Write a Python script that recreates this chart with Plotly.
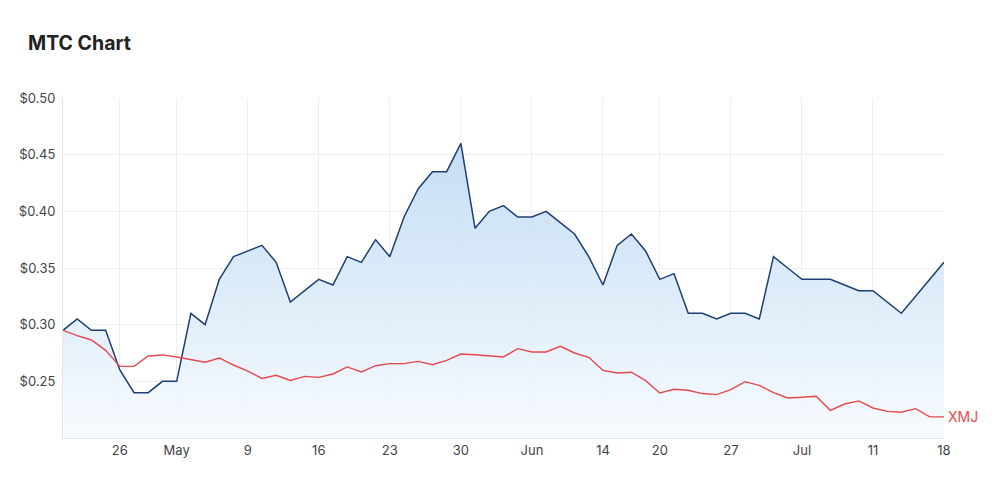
import plotly.graph_objects as go

dates = [
    "2022-04-19", "2022-04-20", "2022-04-21", "2022-04-22", "2022-04-26", "2022-04-27", "2022-04-28", "2022-04-29",
    "2022-05-02", "2022-05-03", "2022-05-04", "2022-05-05", "2022-05-06",
    "2022-05-09", "2022-05-10", "2022-05-11", "2022-05-12", "2022-05-13",
    "2022-05-16", "2022-05-17", "2022-05-18", "2022-05-19", "2022-05-20",
    "2022-05-23", "2022-05-24", "2022-05-25", "2022-05-26", "2022-05-27",
    "2022-05-30", "2022-05-31", "2022-06-01", "2022-06-02", "2022-06-03",
    "2022-06-06", "2022-06-07", "2022-06-08", "2022-06-09", "2022-06-10",
    "2022-06-14", "2022-06-15", "2022-06-16", "2022-06-17",
    "2022-06-20", "2022-06-21", "2022-06-22", "2022-06-23", "2022-06-24",
    "2022-06-27", "2022-06-28", "2022-06-29", "2022-06-30", "2022-07-01",
    "2022-07-04", "2022-07-05", "2022-07-06", "2022-07-07", "2022-07-08",
    "2022-07-11", "2022-07-12", "2022-07-13", "2022-07-14", "2022-07-15",
    "2022-07-18",
]

mtc = [
    0.295, 0.305, 0.295, 0.295, 0.260, 0.240, 0.240, 0.250,
    0.250, 0.310, 0.300, 0.340, 0.360,
    0.365, 0.370, 0.355, 0.320, 0.330,
    0.340, 0.335, 0.360, 0.355, 0.375,
    0.360, 0.395, 0.420, 0.435, 0.435,
    0.460, 0.385, 0.400, 0.405, 0.395,
    0.395, 0.400, 0.390, 0.380, 0.360,
    0.335, 0.370, 0.380, 0.365,
    0.340, 0.345, 0.310, 0.310, 0.305,
    0.310, 0.310, 0.305, 0.360, 0.350,
    0.340, 0.340, 0.340, 0.335, 0.330,
    0.330, 0.320, 0.310, 0.325, 0.340,
    0.355,
]

xmj = [
    0.2950, 0.2903, 0.2865, 0.2773, 0.2632, 0.2632, 0.2724, 0.2733,
    0.2715, 0.2689, 0.2668, 0.2706, 0.2644,
    0.2591, 0.2526, 0.2553, 0.2508, 0.2544,
    0.2535, 0.2565, 0.2627, 0.2583, 0.2638,
    0.2656, 0.2656, 0.2676, 0.2647, 0.2685,
    0.2741, 0.2735, 0.2724, 0.2715, 0.2788,
    0.2759, 0.2759, 0.2809, 0.2750, 0.2712,
    0.2597, 0.2574, 0.2580, 0.2506,
    0.2397, 0.2430, 0.2421, 0.2392, 0.2383,
    0.2427, 0.2497, 0.2465, 0.2400, 0.2353,
    0.2359, 0.2368, 0.2244, 0.2300, 0.2327,
    0.2265, 0.2235, 0.2227, 0.2259, 0.2186,
    0.2186,
]

tick_dates = ["2022-04-26", "2022-05-02", "2022-05-09", "2022-05-16", "2022-05-23", "2022-05-30",
              "2022-06-06", "2022-06-14", "2022-06-20", "2022-06-27", "2022-07-04", "2022-07-11", "2022-07-18"]
tick_labels = ["26", "May", "9", "16", "23", "30", "Jun", "14", "20", "27", "Jul", "11", "18"]

y_ticks = [0.25, 0.30, 0.35, 0.40, 0.45, 0.50]
y_labels = ["$0.25", "$0.30", "$0.35", "$0.40", "$0.45", "$0.50"]

fig = go.Figure()

fig.add_trace(go.Scatter(
    x=dates, y=mtc, mode="lines", name="MTC",
    line=dict(color="#1d3f72", width=1.5),
    fill="tozeroy",
    fillgradient=dict(
        type="vertical",
        colorscale=[[0, "rgba(246,250,254,0.9)"], [1, "rgba(190,218,243,0.9)"]],
        start=0.20, stop=0.46,
    ),
    hoverinfo="skip",
))

fig.add_trace(go.Scatter(
    x=dates, y=xmj, mode="lines", name="XMJ",
    line=dict(color="#e5484d", width=1.4),
    hoverinfo="skip",
))

fig.add_annotation(
    x=dates[-1], y=xmj[-1], text="XMJ", showarrow=False,
    xanchor="left", yanchor="middle", xshift=2,
    font=dict(family="Inter", size=14, color="#e5484d"),
)

fig.update_layout(
    width=1000, height=501,
    margin=dict(l=63, r=56, t=98, b=63),
    paper_bgcolor="white", plot_bgcolor="white",
    showlegend=False,
    title=dict(
        text="<b>MTC Chart</b>",
        font=dict(family="Inter", size=19.5, color="#222222"),
        xref="container", yref="container",
        x=0.028, xanchor="left", y=1 - 43 / 501, yanchor="middle",
    ),
    font=dict(family="Inter", size=13, color="#444444"),
)

fig.update_xaxes(
    type="category", categoryorder="array", categoryarray=dates,
    range=[0, len(dates) - 1],
    tickmode="array", tickvals=tick_dates, ticktext=tick_labels,
    showgrid=True, gridcolor="#eeeeee", gridwidth=1,
    showline=True, linecolor="#e6e6e6", linewidth=1,
    ticks="", tickfont=dict(family="Inter", size=13, color="#444444"),
    zeroline=False,
)

fig.update_yaxes(
    range=[0.20, 0.50],
    tickmode="array", tickvals=y_ticks, ticktext=y_labels,
    showgrid=True, gridcolor="#f0f0f0", gridwidth=1,
    showline=True, linecolor="#e6e6e6", linewidth=1,
    ticks="", ticklabelstandoff=4,
    tickfont=dict(family="Inter", size=13, color="#444444"),
    zeroline=False,
)

fig.write_html("out.html")
